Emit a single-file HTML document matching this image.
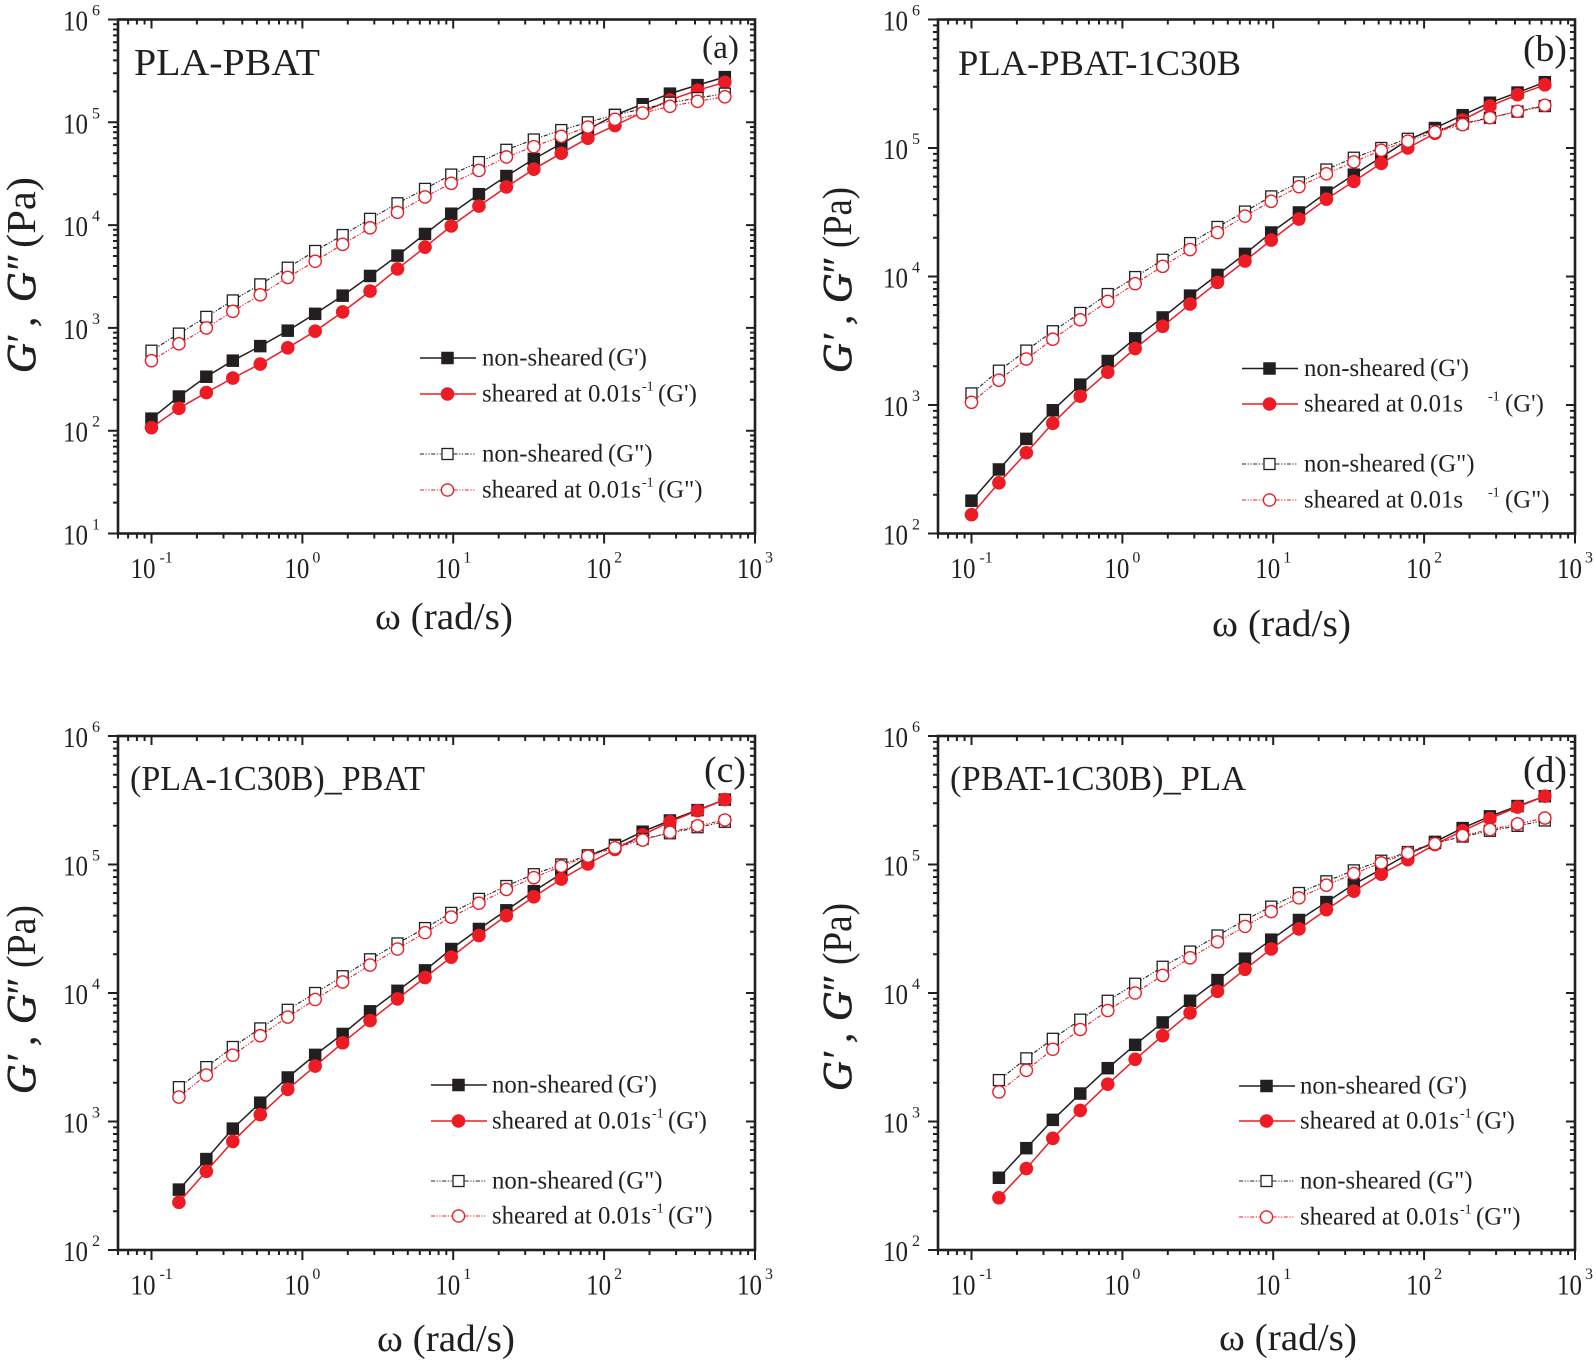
<!DOCTYPE html>
<html lang="en">
<head>
<meta charset="utf-8">
<title>Storage and loss modulus versus frequency</title>
<style>
html,body{margin:0;padding:0;background:#fff;}
svg{display:block;}
text{font-family:"Liberation Serif",serif;fill:#231f20;}
</style>
</head>
<body>
<svg id="chart" xmlns="http://www.w3.org/2000/svg" width="1596" height="1362" viewBox="0 0 1596 1362"></svg>
<script>
// ---------- data ----------
const freqFull = [0.1,0.152,0.231,0.346,0.526,0.8,1.216,1.85,2.81,4.27,6.5,9.7,14.8,22.5,34.2,52,78,118,180,273,416,631];
const freqShort = [0.152,0.231,0.346,0.526,0.8,1.216,1.85,2.81,4.27,6.5,9.7,14.8,22.5,34.2,52,78,118,180,273,416,631];
const xTickExponents = [-1,0,1,2,3];
const yTickExponentsA = [1,2,3,4,5,6];
const yTickExponentsOther = [2,3,4,5,6];

const aStorageNon = [131,215,335,480,665,940,1370,2060,3200,5050,8200,12900,20000,30000,44000,62000,85000,118000,150000,190000,230000,275000];
const aStorageShear = [107,165,235,325,445,640,930,1430,2280,3750,6100,9800,15300,23500,35000,50000,70000,93000,125000,165000,205000,245000];
const aLossNon = [600,880,1280,1850,2650,3850,5600,8000,11500,16300,22500,31000,41000,54000,68000,84000,100000,118000,135000,155000,172000,190000];
const aLossShear = [480,700,1000,1450,2100,3100,4450,6500,9400,13300,18800,25500,34000,46000,58000,73000,90000,107000,123000,143000,160000,177000];

const bStorageNon = [180,315,545,910,1440,2200,3300,4800,7100,10300,15000,22000,31500,45000,62000,85000,115000,143000,180000,225000,270000,325000];
const bStorageShear = [140,248,425,720,1170,1800,2750,4100,6100,9000,13200,19200,28000,40000,55000,76000,100000,130000,165000,212000,260000,310000];
const bLossNon = [1230,1850,2650,3750,5200,7300,9900,13500,18200,24300,32000,42000,54000,68000,84000,100000,118000,137000,155000,172000,192000,212000];
const bLossShear = [1050,1560,2280,3250,4600,6400,8800,12000,16200,22000,29500,38500,50000,63000,78000,96000,113000,133000,152000,172000,193000,215000];

const cStorageNon = [295,510,880,1400,2200,3300,4800,7200,10400,15000,22000,31500,44000,62000,85000,115000,142000,180000,220000,265000,320000];
const cStorageShear = [235,410,700,1130,1780,2700,4100,6100,9000,13200,19000,28000,40000,56000,77000,101000,131000,170000,215000,262000,320000];
const cLossNon = [1850,2650,3800,5300,7400,10000,13500,18300,24300,32000,42000,54000,68000,84000,100000,118000,140000,158000,175000,195000,215000];
const cLossShear = [1550,2300,3280,4650,6500,8900,12200,16500,22000,29500,39000,50000,64000,79000,97000,116000,135000,155000,178000,200000,222000];

const dStorageNon = [365,620,1030,1650,2600,3950,5900,8700,12600,18500,26000,37000,51000,70000,92000,120000,150000,192000,237000,285000,340000];
const dStorageShear = [255,430,740,1220,1950,3050,4650,7000,10300,15300,22000,31500,44500,62000,84000,109000,143000,183000,228000,280000,340000];
const dLossNon = [2100,3100,4400,6200,8700,11800,16000,21000,28000,37000,47000,60000,74000,90000,107000,125000,147000,165000,183000,200000,220000];
const dLossShear = [1700,2500,3650,5200,7300,10000,13700,18800,25000,33000,43000,55000,69000,85000,103000,123000,145000,168000,187000,207000,230000];

// ---------- layout ----------
const BLACK = '#231f20', RED = '#ed1c24';
const DASH = '4 1.6 1.2 1.6 1.2 1.6';
const svg = document.getElementById('chart');
const NS = 'http://www.w3.org/2000/svg';

function mk(parent, tag, attrs, txt){
  const el = document.createElementNS(NS, tag);
  for (const k in attrs) el.setAttribute(k, attrs[k]);
  if (txt !== undefined) el.textContent = txt;
  parent.appendChild(el);
  return el;
}

const panels = [
 {id:'a', L:118, R:755, T:19.5, B:533.5, yMinExp:1, yTicks:yTickExponentsA, x:freqFull,
  sn:aStorageNon, ss:aStorageShear, ln:aLossNon, ls:aLossShear,
  title:'PLA-PBAT', tx:134, ty:75, tl:186, tf:38,
  tag:'(a)', gx:702, gy:58, gl:37, gf:33,
  xl:{x:375, y:629, w:138}, yl:{x:35, y1:373, off:[0,28,46,71,100,125], pl:71},
  leg:{x:420, tx:482, ys:[358,394,454,490], gapSup:false}},
 {id:'b', L:938, R:1575, T:19.5, B:533.5, yMinExp:2, yTicks:yTickExponentsOther, x:freqFull,
  sn:bStorageNon, ss:bStorageShear, ln:bLossNon, ls:bLossShear,
  title:'PLA-PBAT-1C30B', tx:958, ty:75, tl:283, tf:36,
  tag:'(b)', gx:1523, gy:61, gl:44, gf:37,
  xl:{x:1212, y:636, w:139}, yl:{x:851, y1:373, off:[0,30,48,70,97,125], pl:61},
  leg:{x:1242, tx:1304, ys:[368.5,404,464,500], gapSup:true}},
 {id:'c', L:118, R:755, T:736, B:1250, yMinExp:2, yTicks:yTickExponentsOther, x:freqShort,
  sn:cStorageNon, ss:cStorageShear, ln:cLossNon, ls:cLossShear,
  title:'(PLA-1C30B)_PBAT', tx:130, ty:790, tl:295, tf:35,
  tag:'(c)', gx:704, gy:782, gl:42, gf:37,
  xl:{x:377, y:1351, w:138}, yl:{x:35, y1:1094, off:[0,30,48,70,97,126], pl:63},
  leg:{x:431, tx:492, ys:[1085,1121,1181,1216], gapSup:false}},
 {id:'d', L:938, R:1575, T:736, B:1250, yMinExp:2, yTicks:yTickExponentsOther, x:freqShort,
  sn:dStorageNon, ss:dStorageShear, ln:dLossNon, ls:dLossShear,
  title:'(PBAT-1C30B)_PLA', tx:950, ty:790, tl:296, tf:35,
  tag:'(d)', gx:1523, gy:782, gl:44, gf:37,
  xl:{x:1219, y:1350, w:138}, yl:{x:851, y1:1091, off:[0,30,48,70,97,126], pl:62},
  leg:{x:1239, tx:1300, ys:[1086,1121,1181,1217], gapSup:false, wide:true}}
];

const X_LOG_MIN = Math.log10(0.06), X_LOG_MAX = 3;

function drawSeries(g, p, xs, ys, color, filled, square, dashed, name){
  const sx = v => p.L + (Math.log10(v) - X_LOG_MIN) / (X_LOG_MAX - X_LOG_MIN) * (p.R - p.L);
  const sy = v => p.B - (Math.log10(v) - p.yMinExp) / (6 - p.yMinExp) * (p.B - p.T);
  const s = mk(g, 'g', {});
  
  
  const pts = xs.map((v, i) => sx(v).toFixed(1) + ',' + sy(ys[i]).toFixed(1)).join(' ');
  const line = mk(s, 'polyline', {points:pts, fill:'none', stroke:color, 'stroke-width':dashed ? 1.1 : 1.5});
  if (dashed) line.setAttribute('stroke-dasharray', DASH);
  
  
  xs.forEach((v, i) => {
    const m = drawMarker(s, sx(v), sy(ys[i]), color, filled, square);
    
    
  });
}

function drawMarker(parent, cx, cy, color, filled, square){
  if (square) {
    const size = filled ? 12.5 : 11;
    return mk(parent, 'rect', {x:cx - size/2, y:cy - size/2, width:size, height:size,
      fill: filled ? color : '#fff', stroke: filled ? 'none' : color, 'stroke-width': filled ? 0 : 1.3});
  }
  return mk(parent, 'circle', {cx:cx, cy:cy, r: filled ? 6.8 : 6.1,
    fill: filled ? color : '#fff', stroke: filled ? 'none' : color, 'stroke-width': filled ? 0 : 1.4});
}

function drawAxes(g, p){
  const xScale = lg => p.L + (lg - X_LOG_MIN) / (X_LOG_MAX - X_LOG_MIN) * (p.R - p.L);
  const yScale = lg => p.B - (lg - p.yMinExp) / (6 - p.yMinExp) * (p.B - p.T);
  const frame = mk(g, 'rect', {x:p.L, y:p.T, width:p.R-p.L, height:p.B-p.T, fill:'none', stroke:BLACK, 'stroke-width':2.6});
  
  
  let dTicks = '';
  // x ticks: outward on the bottom, inward at the top
  for (let e = -2; e < 3; e++) {
    for (let k = 1; k < 10; k++) {
      const lg = e + Math.log10(k);
      if (lg < X_LOG_MIN - 0.001 || lg > 3) continue;
      const x = xScale(lg).toFixed(1), major = k === 1;
      dTicks += 'M' + x + ' ' + p.B + 'v' + (major ? 10 : 5);
      dTicks += 'M' + x + ' ' + p.T + 'v' + (major ? 9 : 5);
    }
  }
  dTicks += 'M' + p.R + ' ' + p.B + 'v10';
  dTicks += 'M' + p.L + ' ' + p.B + 'v5';
  // y ticks: outward on the left, inward on the right
  for (let e = p.yMinExp; e <= 6; e++) {
    for (let k = 1; k < 10; k++) {
      const lg = e + Math.log10(k);
      if (lg > 6) continue;
      const y = yScale(lg).toFixed(1), major = k === 1;
      dTicks += 'M' + p.L + ' ' + y + 'h' + (major ? -10 : -5);
      dTicks += 'M' + p.R + ' ' + y + 'h' + (major ? -9 : -5);
    }
  }
  const ticks = mk(g, 'path', {d:dTicks, fill:'none', stroke:BLACK, 'stroke-width':2});
  
  

  xTickExponents.forEach(e => {
    const x = xScale(e);
    const lab = mk(g, 'text', {x: x - (e < 0 ? 21 : 18), y: p.B + 44.5, 'font-size':28.5, textLength:25, lengthAdjust:'spacingAndGlyphs'}, '10');
    
    
    const sup = mk(g, 'text', {x: x + (e < 0 ? 8 : 10), y: p.B + 29, 'font-size':16}, String(e));
    
    
  });
  p.yTicks.forEach(e => {
    const y = yScale(e);
    const lab = mk(g, 'text', {x: p.L - 55, y: y + 11, 'font-size':28.5, textLength:25, lengthAdjust:'spacingAndGlyphs'}, '10');
    
    
    const sup = mk(g, 'text', {x: p.L - 26, y: y - 4, 'font-size':16}, String(e));
    
    
  });
}

function drawYTitle(g, p){
  const yl = p.yl;
  const t = mk(g, 'g', {transform:'translate(' + yl.x + ',' + yl.y1 + ') rotate(-90)'});
  
  
  const glyphs = ['G', '\u2032', ',', 'G', '\u2033'];
  glyphs.forEach((ch, i) => {
    const isG = ch === 'G';
    mk(t, 'text', {x:yl.off[i], y:0, 'font-size':41, 'font-style':'italic',
      stroke: BLACK, 'stroke-width': isG ? 0.8 : 0.4}, ch);
  });
  mk(t, 'text', {x:yl.off[5], y:0, 'font-size':41, textLength:yl.pl, lengthAdjust:'spacingAndGlyphs'}, '(Pa)');
}

function drawLegend(g, p){
  const rows = [
    {base:'non-sheared', q:"(G')", c:BLACK, f:true, s:true, d:false},
    {base:'sheared at 0.01s', q:"(G')", c:RED, f:true, s:false, d:false, sup:true},
    {base:'non-sheared', q:'(G")', c:BLACK, f:false, s:true, d:true},
    {base:'sheared at 0.01s', q:'(G")', c:RED, f:false, s:false, d:true, sup:true}
  ];
  const legend = mk(g, 'g', {});
  
  
  const L = p.leg;
  rows.forEach((r, i) => {
    const y = L.ys[i];
    const entry = mk(legend, 'g', {});
    
    
    const ln = mk(entry, 'line', {x1:L.x, x2:L.x + 56, y1:y, y2:y, stroke:r.c, 'stroke-width': r.d ? 1.1 : 1.5});
    if (r.d) ln.setAttribute('stroke-dasharray', DASH);
    drawMarker(entry, L.x + 27.5, y, r.c, r.f, r.s);
    const ty = y + 7.5;
    if (!r.sup) {
      mk(entry, 'text', {x:L.tx, y:ty, 'font-size':24.8}, r.base);
      mk(entry, 'text', {x:L.tx + (L.wide ? 128 : 126), y:ty, 'font-size':24.8}, r.q);
      return;
    }
    mk(entry, 'text', {x:L.tx, y:ty, 'font-size':24.8}, r.base);
    const supX = L.gapSup ? L.tx + 184 : L.tx + 160;
    const qX = L.gapSup ? L.tx + 201 : L.tx + 176;
    mk(entry, 'text', {x:supX, y:ty - 11, 'font-size':14}, '-1');
    mk(entry, 'text', {x:qX, y:ty, 'font-size':24.8}, r.q);
  });
}

panels.forEach(p => {
  const g = mk(svg, 'g', {});
  
  

  drawSeries(g, p, p.x, p.sn, BLACK, true, true, false, 'storage-non-sheared-series');
  drawSeries(g, p, p.x, p.ss, RED, true, false, false, 'storage-sheared-series');
  drawSeries(g, p, p.x, p.ln, BLACK, false, true, true, 'loss-non-sheared-series');
  drawSeries(g, p, p.x, p.ls, RED, false, false, true, 'loss-sheared-series');

  drawAxes(g, p);

  const title = mk(g, 'text', {x:p.tx, y:p.ty, 'font-size':p.tf, textLength:p.tl, lengthAdjust:'spacingAndGlyphs'}, p.title);
  
  

  const tag = mk(g, 'text', {x:p.gx, y:p.gy, 'font-size':p.gf, textLength:p.gl, lengthAdjust:'spacingAndGlyphs'}, p.tag);
  
  

  const xt = mk(g, 'text', {x:p.xl.x, y:p.xl.y, 'font-size':38, textLength:p.xl.w, lengthAdjust:'spacingAndGlyphs'}, 'ω (rad/s)');
  
  

  drawYTitle(g, p);
  drawLegend(g, p);
});
</script>
</body>
</html>
